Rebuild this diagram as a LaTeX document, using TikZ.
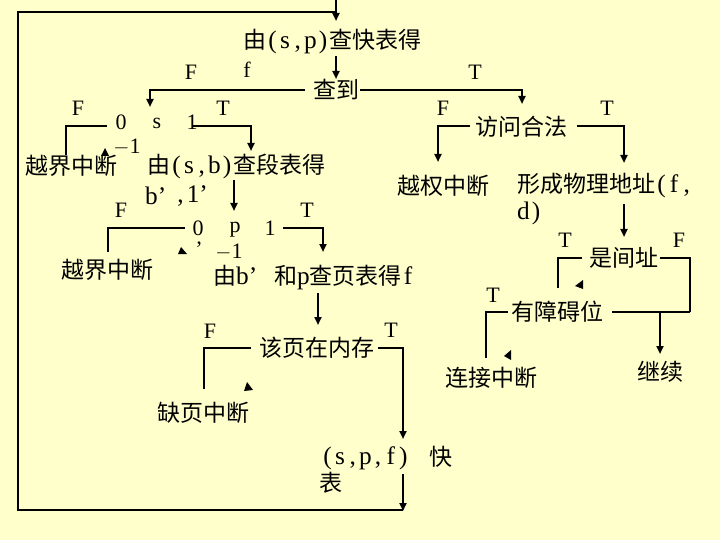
\documentclass[tikz,border=0pt]{standalone}
\usepackage{fontspec}
\setmainfont{Liberation Serif}[Scale=1.1]
\newfontfamily\cjk{Noto Sans CJK SC}
\usetikzlibrary{arrows.meta}
\newcommand\zh[1]{{\cjk #1}}
% Latin characters set on a half-em grid, as in a CJK text face
\newcommand\hw[1]{\hwloop#1\relax}
\def\hwloop#1{\ifx#1\relax\else\makebox[0.5em]{#1}\expandafter\hwloop\fi}
\newcommand\fwq{\makebox[1em][l]{’}}
\definecolor{paper}{RGB}{255,255,204}

\begin{document}
\begin{tikzpicture}[x=1pt,y=-1pt,
  ln/.style={line width=2.4pt},
  arr/.style={line width=2.4pt,-{Triangle[length=8pt,width=7pt]}},
  txt/.style={inner sep=0pt,anchor=west,font=\fontsize{23}{27}\selectfont},
  tag/.style={inner sep=0pt,font=\fontsize{20}{24}\selectfont}]
\fill[paper] (0,0) rectangle (720,540);
\useasboundingbox (0,0) rectangle (720,540);

% ---- text of the flow ----
\node[txt] (tlb)    at (243,42)  {\zh{由}\hw{(s,p)}\zh{查快表得}};
\node[txt] (found)  at (313,90)  {\zh{查到}};
\node[tag] (fF1)    at (191,72)  {F};
\node[tag] (ff)     at (247,70)  {f};
\node[tag] (fT1)    at (475,72)  {T};

\node[tag] (s0)     at (121,122) {0};
\node[tag] (ss)     at (157,123) {s};
\node[tag] (s1)     at (192,122) {1};
\node[tag] (fF2)    at (78,108)  {F};
\node[tag] (fT2)    at (223,108) {T};
\node[tag] (sm1)    at (127,147) {$-$1};
\node[txt] (oob1)   at (25,166)  {\zh{越界中断}};
\node[txt] (segtab) at (147,166) {\zh{由}\hw{(s,b)}\zh{查段表得}};
\node[txt] (bl)     at (145,196) {\hw{b}\fwq};
\node[txt] (bl2)    at (174,196) {\hw{,1}’};

\node[tag] (fF3)    at (121,210) {F};
\node[tag] (fT3)    at (307,210) {T};
\node[tag] (p0)     at (198,228) {0};
\node[tag] (pp)     at (235,230) {p};
\node[tag] (p1)     at (270,228) {1};
\node[tag] (pq)     at (199,249) {’};
\node[tag] (pm1)    at (229,252) {$-$1};
\node[txt] (oob2)   at (61,270)  {\zh{越界中断}};
\node[txt] (pgtab)  at (213,278) {\zh{由}\hw{b}\fwq\zh{和}\hw{p}\zh{查页表得}\hw{f}};

\node[tag] (fF4)    at (210,331) {F};
\node[tag] (fT5)    at (391,330) {T};
\node[txt] (inmem)  at (259,348) {\zh{该页在内存}};
\node[txt] (pf)     at (157,413) {\zh{缺页中断}};
\node[txt] (spf)    at (321,458) {\hw{(s,p,f)}};
\node[txt] (kuai)   at (429,457) {\zh{快}};
\node[txt] (biao)   at (319,483) {\zh{表}};

\node[txt] (legal)  at (475,127) {\zh{访问合法}};
\node[tag] (fF5)    at (443,108) {F};
\node[tag] (fT6)    at (607,108) {T};
\node[txt] (priv)   at (397,186) {\zh{越权中断}};
\node[txt] (phys)   at (517,186) {\zh{形成物理地址}\hw{(f,}};
\node[txt] (physd)  at (517,213) {\hw{d)}};

\node[tag] (fT7)    at (565,240) {T};
\node[tag] (fF6)    at (679,240) {F};
\node[txt] (ind)    at (589,258) {\zh{是间址}};
\node[tag] (fT8)    at (493,295) {T};
\node[txt] (bar)    at (511,312) {\zh{有障碍位}};
\node[txt] (link)   at (445,378) {\zh{连接中断}};
\node[txt] (cont)   at (637,372) {\zh{继续}};

% ---- corner points of the connectors ----
\coordinate (in)    at (336,0);
\coordinate (ret)   at (403,474);
\coordinate (retC)  at (403,511);

% entry arrow and the return loop
\draw[arr] (in) -- (336,21);
\draw[ln] (336,12) -- (18,12) -- (18,510) -- (403,510);
\draw[arr] (ret) -- (retC);

% TLB lookup
\draw[arr] (336,56) -- (336,79);
\draw[arr] (305,90) -| (150,107);
\draw[arr] (360,90) -| (522,104);

% segment number check
\draw[ln]  (107,126) -| (66,155);
\draw[arr] (193,126) -| (251,151);
\fill (105,148) -- (101,156) -- (109,156) -- cycle;

% page number check
\draw[arr] (234,180) -- (234,211);
\draw[ln]  (185,228) -| (108,252);
\draw[arr] (283,228) -| (323,252);
\fill (181,247) -- (178,254) -- (187,254) -- cycle;

% page table lookup and residency
\draw[arr] (318,293) -- (318,325);
\draw[ln]  (251,348) -| (204,389);
\draw[arr] (378,348) -| (403,439);
\fill (247,382) -- (244,391) -- (253,390) -- cycle;

% access rights
\draw[arr] (470,126) -| (438,162);
\draw[arr] (577,126) -| (624,163);

% physical address, indirect bit, barrier bit
\draw[arr] (624,204) -- (624,237);
\draw[ln]  (582,258) -| (558,288);
\draw[ln]  (660,258) -| (690,312);
\fill (575,286) -- (583,280) -- (583,289) -- cycle;
\draw[ln]  (508,312) -| (486,358);
\draw[ln]  (612,312) -- (690,312);
\draw[arr] (660,312) -- (660,354);
\fill (504,356) -- (511,350) -- (511,360) -- cycle;
\end{tikzpicture}
\end{document}
